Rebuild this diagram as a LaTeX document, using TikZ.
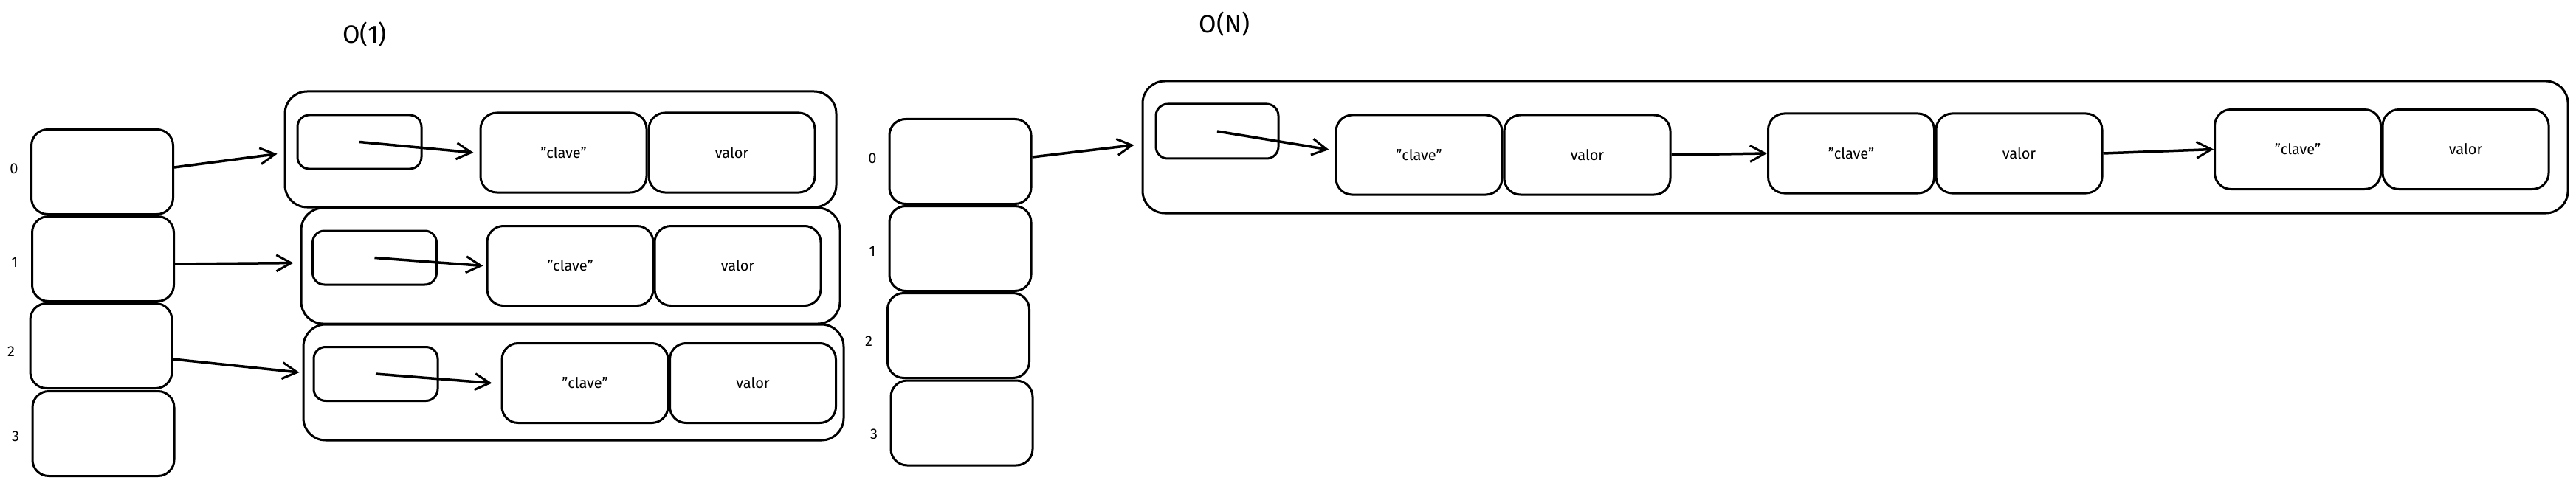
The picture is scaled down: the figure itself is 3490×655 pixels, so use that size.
\documentclass[tikz,border=0pt]{standalone}
\usepackage{fontspec}
\setmainfont{Fira Sans}
\usetikzlibrary{arrows.meta}
\tikzset{
  rbox/.style={draw, line width=3pt, rounded corners=22pt, inner sep=0pt},
  bucket/.style={rbox, minimum width=192pt, minimum height=115pt},
  cont/.style={draw, line width=3pt, rounded corners=30pt, inner sep=0pt},
  ptr/.style={draw, line width=3pt, rounded corners=16pt, inner sep=0pt, minimum width=168pt, minimum height=73pt},
  kv/.style={rbox, minimum width=225pt, minimum height=108pt, font=\fontsize{20}{24}\selectfont},
  idx/.style={font=\fontsize{20}{24}\selectfont},
  ttl/.style={font=\fontsize{34}{40}\selectfont},
  arr/.style={line width=3.5pt, -{Straight Barb[length=20pt,width=22pt,line width=3pt]}},
}
\begin{document}
\begin{tikzpicture}[x=1pt,y=-1pt]
\useasboundingbox (0,0) rectangle (3490,655);
% ---------- O(1) ----------
\node[ttl] (t1) at (494,47) {O(1)};
\node[bucket] (b0) at (138.5,233) {};
\node[bucket] (b1) at (139.5,351) {};
\node[bucket] (b2) at (137,469) {};
\node[bucket] (b3) at (140,588) {};
\node[idx] (l0) at (19,229) {0};
\node[idx] (l1) at (20,356) {1};
\node[idx] (l2) at (15,477) {2};
\node[idx] (l3) at (21,592) {3};

\node[cont, minimum width=747pt, minimum height=157pt] (c0) at (759.5,202.5) {};
\node[cont, minimum width=730pt, minimum height=157pt] (c1) at (773,360.5) {};
\node[cont, minimum width=732pt, minimum height=157pt] (c2) at (777,518.5) {};

\node[ptr] (p0) at (487,192.5) {};
\node[ptr] (p1) at (507.5,349.5) {};
\node[ptr] (p2) at (509,507) {};
\node[kv] (k0) at (763.5,207) {"clave"};
\node[kv] (v0) at (991.5,207) {valor};
\node[kv] (k1) at (772.5,360.5) {"clave"};
\node[kv] (v1) at (999.5,360.5) {valor};
\node[kv] (k2) at (792.5,519.5) {"clave"};
\node[kv] (v2) at (1020,519.5) {valor};

\draw[arr] ([yshift=6pt]b0.east) -- ([yshift=-5pt]c0.west) [shorten >=9pt];
\draw[arr] ([yshift=-7pt]b1.east) -- ([yshift=4pt]c1.west) [shorten >=9pt];
\draw[arr] ([yshift=-18pt]b2.east) -- ([yshift=13pt]c2.west) [shorten >=4pt];
\draw[arr] (p0.center) -- ([xshift=-8pt]k0.west);
\draw[arr] (p1.center) -- ([xshift=-4pt]k1.west);
\draw[arr] (p2.center) -- ([xshift=-12pt]k2.west);

% ---------- O(N) ----------
\node[ttl] (t2) at (1659,33) {O(N)};
\node[bucket] (B0) at (1301,219) {};
\node[bucket] (B1) at (1301,337) {};
\node[bucket] (B2) at (1298.5,455) {};
\node[bucket] (B3) at (1303,573.5) {};
\node[idx] (L0) at (1182,215) {0};
\node[idx] (L1) at (1182,341) {1};
\node[idx] (L2) at (1177,463) {2};
\node[idx] (L3) at (1184,589) {3};

\node[cont, minimum width=1931pt, minimum height=179pt] (C) at (2513.5,199.5) {};
\node[ptr, minimum width=166pt, minimum height=74pt] (P) at (1649,178) {};
\node[kv] (K1) at (1922.5,210) {"clave"};
\node[kv] (V1) at (2150.5,210) {valor};
\node[kv] (K2) at (2508,208) {"clave"};
\node[kv] (V2) at (2735.5,208) {valor};
\node[kv] (K3) at (3113,202.5) {"clave"};
\node[kv] (V3) at (3340.5,202.5) {valor};

\draw[arr] ([yshift=6pt]B0.east) -- ([yshift=4pt]C.west) [shorten >=10pt];
\draw[arr] (P.center) -- ([xshift=-8pt,yshift=7pt]K1.west);
\draw[arr] (V1.east) -- (K2.west);
\draw[arr] (V2.east) -- (K3.west);
\end{tikzpicture}
\end{document}
